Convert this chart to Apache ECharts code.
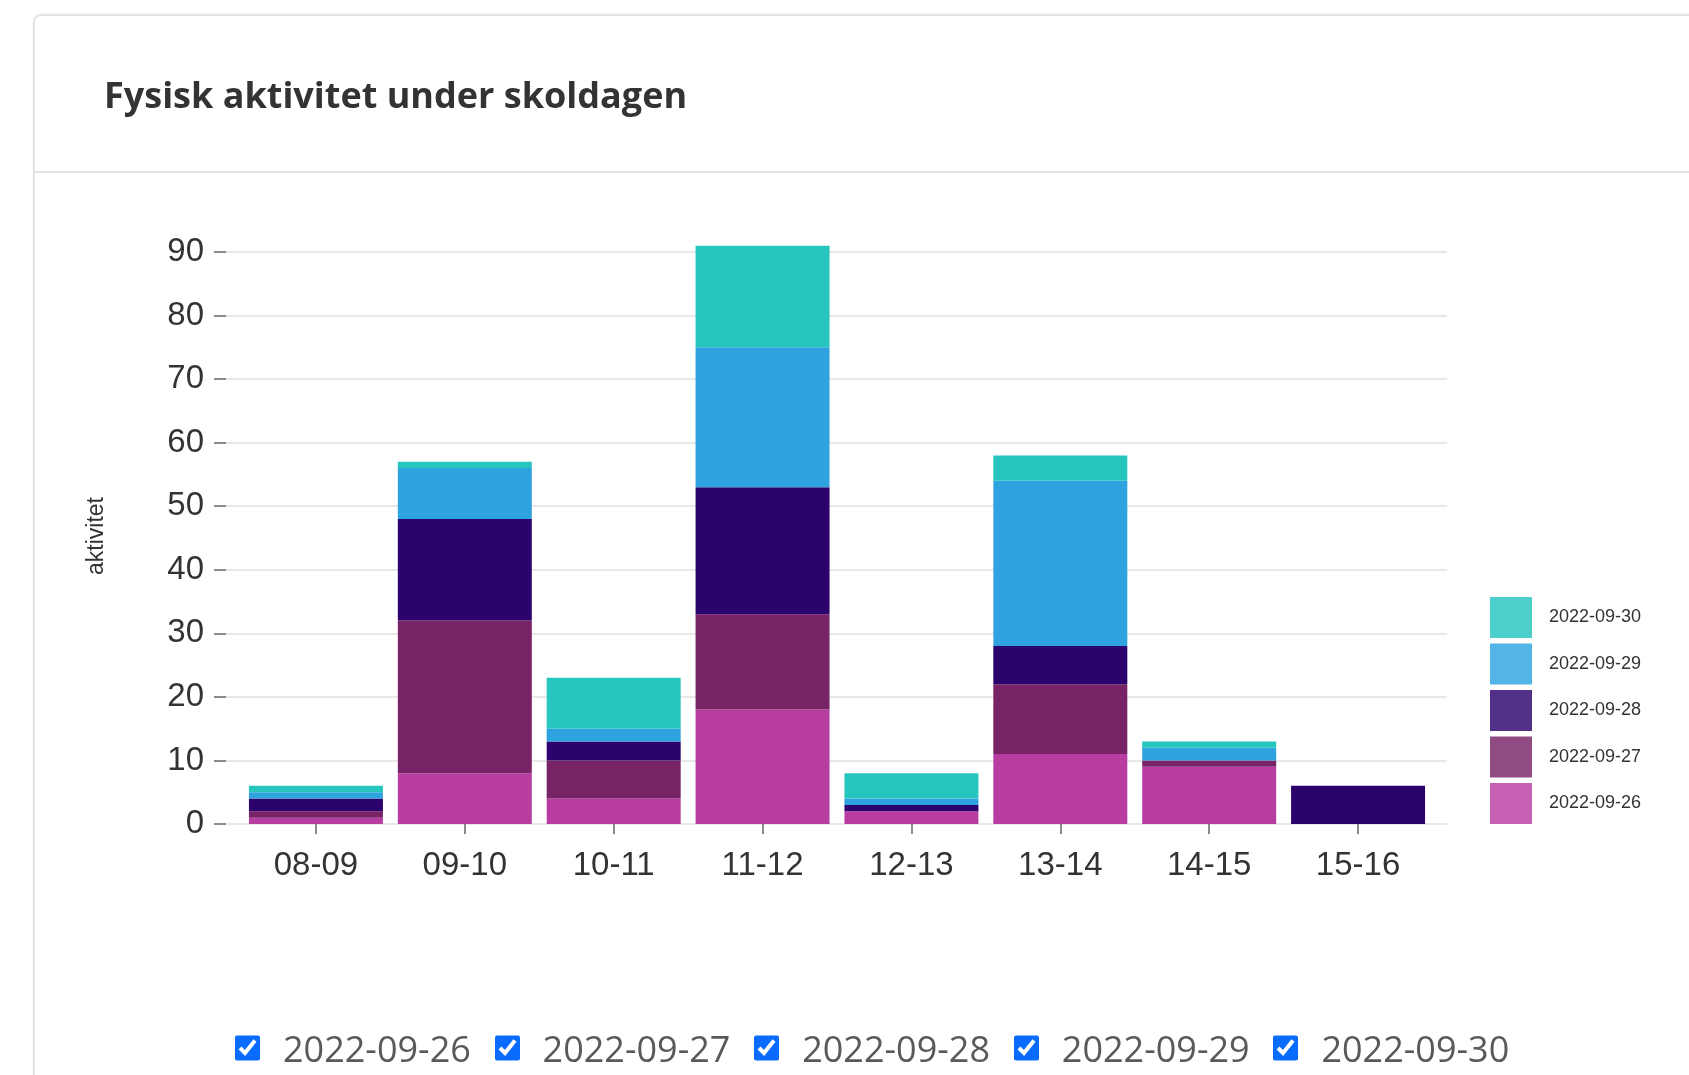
<!DOCTYPE html>
<html>
<head>
<meta charset="utf-8">
<script src="https://cdn.jsdelivr.net/npm/echarts@6/dist/echarts.min.js"></script>
<style>
  html, body { margin: 0; padding: 0; background: #fff; width: 1689px; height: 1075px; overflow: hidden; }
  #card { position: absolute; left: 33px; top: 14px; width: 1720px; height: 1120px; border: 2px solid #e4e4e4; border-radius: 8px; box-sizing: border-box; box-shadow: 0 0 3px rgba(0,0,0,0.06); }
  #sep { position: absolute; left: 33px; top: 171px; width: 1700px; height: 0; border-top: 2px solid #e4e4e4; }
  #chart { position: absolute; left: 0; top: 0; width: 1689px; height: 1075px; }
  .cb { position: absolute; top: 1030px; height: 36px; display: flex; align-items: center; font-family: "Open Sans", sans-serif; font-size: 36px; color: #595959; white-space: nowrap; }
  .cb input { margin: 0 23px 0 0; width: 25px; height: 26px; accent-color: #0a6cff; }
</style>
</head>
<body>
<div id="card"></div>
<div id="sep"></div>
<div id="chart"></div>
<div id="checks"></div>
<script>
// ---- data ----
const titleText = 'Fysisk aktivitet under skoldagen';
const yAxisTitle = 'aktivitet';
const categories = ['08-09', '09-10', '10-11', '11-12', '12-13', '13-14', '14-15', '15-16'];
const seriesNames = ['2022-09-26', '2022-09-27', '2022-09-28', '2022-09-29', '2022-09-30'];
const values0926 = [1, 8, 4, 18, 2, 11, 9, 0];
const values0927 = [1, 24, 6, 15, 0, 11, 1, 0];
const values0928 = [2, 16, 3, 20, 1, 6, 0, 6];
const values0929 = [1, 8, 2, 22, 1, 26, 2, 0];
const values0930 = [1, 1, 8, 16, 4, 4, 1, 0];
const yMin = 0, yMax = 90, yStep = 10;
const colors = ['#b83da1', '#772366', '#2c036c', '#2ea3df', '#26c6bf'];

const seriesValues = [values0926, values0927, values0928, values0929, values0930];

const chart = echarts.init(document.getElementById('chart'), null, { renderer: 'canvas' });

const axisFont = 'Liberation Sans, Arial, sans-serif';

const option = {
  animation: false,
  backgroundColor: 'transparent',
  title: {
    text: titleText,
    left: 99,
    top: 75,
    textStyle: { fontFamily: 'Open Sans', fontWeight: 700, fontSize: 36, color: '#333' }
  },
  grid: [
    { left: 226, right: 242, top: 252, bottom: 251, containLabel: false },
    { left: 241.5, right: 256.5, top: 252, bottom: 251, containLabel: false }
  ],
  xAxis: [
    { gridIndex: 0, type: 'category', data: categories, show: false },
    {
      gridIndex: 1, type: 'category', data: categories,
      axisLine: { show: false },
      axisTick: { show: true, alignWithLabel: true, length: 10, lineStyle: { color: '#8c8c8c', width: 2 } },
      axisLabel: { fontFamily: axisFont, fontSize: 33, color: '#333', margin: 25 }
    }
  ],
  yAxis: [
    {
      gridIndex: 0, type: 'value', min: yMin, max: yMax, interval: yStep,
      axisLine: { show: false },
      axisTick: { show: true, length: 12, lineStyle: { color: '#8c8c8c', width: 2 } },
      axisLabel: { fontFamily: axisFont, fontSize: 33, color: '#333', margin: 22 },
      splitLine: { show: true, lineStyle: { color: '#e8e8e8', width: 2 } }
    },
    { gridIndex: 1, type: 'value', min: yMin, max: yMax, interval: yStep, show: false, splitLine: { show: false } }
  ],
  legend: {
    orient: 'vertical',
    left: 1485,
    top: 592,
    itemWidth: 42,
    itemHeight: 41,
    itemGap: 5.5,
    selectedMode: false,
    textStyle: { fontFamily: axisFont, fontSize: 18, color: '#333', padding: [0, 0, 0, 12] },
    data: seriesNames.slice().reverse().map(function (n) {
      return { name: n, icon: 'rect', itemStyle: { opacity: 0.82 } };
    })
  },
  graphic: [
    {
      type: 'text',
      x: 97, y: 536,
      rotation: Math.PI / 2,
      style: {
        text: yAxisTitle,
        fontFamily: axisFont,
        fontSize: 23,
        fill: '#333',
        textAlign: 'center',
        textVerticalAlign: 'middle'
      }
    }
  ],
  series: seriesNames.map(function (name, i) {
    return {
      name: name,
      type: 'bar',
      xAxisIndex: 1,
      yAxisIndex: 1,
      stack: 'total',
      barCategoryGap: '10%',
      clip: false,
      itemStyle: { color: colors[i] },
      data: seriesValues[i]
    };
  })
};

chart.setOption(option);

// checkbox row (HTML controls)
const checks = document.getElementById('checks');
seriesNames.forEach(function (n, i) {
  const d = document.createElement('label');
  d.className = 'cb';
  d.style.left = (235 + i * 259.6) + 'px';
  const inp = document.createElement('input');
  inp.type = 'checkbox';
  inp.checked = true;
  d.appendChild(inp);
  d.appendChild(document.createTextNode(n));
  checks.appendChild(d);
});
</script>
</body>
</html>
